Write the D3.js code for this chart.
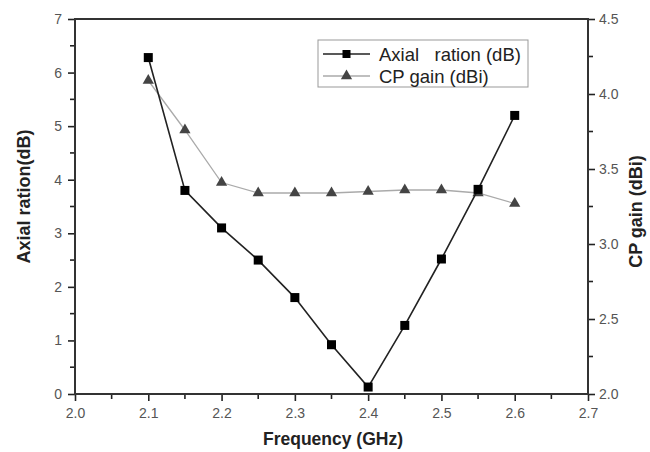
<!DOCTYPE html>
<html>
<head>
<meta charset="utf-8">
<script src="https://cdn.jsdelivr.net/npm/d3@7"></script>
<style>
  body { margin: 0; background: #fff; }
  text { font-family: "Liberation Sans", Arial, sans-serif; }
</style>
</head>
<body>
<div id="main"></div>
<script>
// data
const freq = [2.1, 2.15, 2.2, 2.25, 2.3, 2.35, 2.4, 2.45, 2.5, 2.55, 2.6];
const axialRatio = [6.28, 3.8, 3.1, 2.5, 1.8, 0.92, 0.13, 1.28, 2.52, 3.82, 5.2];
const cpGain = [4.09, 3.76, 3.41, 3.34, 3.34, 3.34, 3.35, 3.36, 3.36, 3.34, 3.27];
const xTicks = [2.0, 2.1, 2.2, 2.3, 2.4, 2.5, 2.6, 2.7];
const yLeftTicks = [0, 1, 2, 3, 4, 5, 6, 7];
const yRightTicks = [2.0, 2.5, 3.0, 3.5, 4.0, 4.5];
const legendLabels = ["Axial   ration (dB)", "CP gain (dBi)"];

const ctx = {
  WIDTH: 650,
  HEIGHT: 452,
  left: 75, right: 588, top: 19, bottom: 394
};

function drawChart() {
  const svg = d3.select("#main").append("svg")
      .attr("width", ctx.WIDTH)
      .attr("height", ctx.HEIGHT);

  const x = d3.scaleLinear().domain([2.0, 2.7]).range([ctx.left, ctx.right]);
  const yL = d3.scaleLinear().domain([0, 7]).range([ctx.bottom, ctx.top]);
  const yR = d3.scaleLinear().domain([2.0, 4.5]).range([ctx.bottom, ctx.top]);

  const tickColor = "#555";
  const axisColor = "#222";

  // bottom axis
  const xAxis = svg.append("g")
      .attr("transform", `translate(0,${ctx.bottom})`)
      .call(d3.axisBottom(x).tickValues(xTicks).tickFormat(d3.format(".1f")).tickSize(7).tickPadding(7));
  xAxis.selectAll("line.minor").data(d3.range(2.05, 2.7, 0.1)).enter().append("line")
      .attr("class", "minor")
      .attr("x1", d => x(d)).attr("x2", d => x(d)).attr("y1", 0).attr("y2", 5);

  // left axis
  const yAxisL = svg.append("g")
      .attr("transform", `translate(${ctx.left},0)`)
      .call(d3.axisLeft(yL).tickValues(yLeftTicks).tickFormat(d3.format("d")).tickSize(7).tickPadding(6));
  yAxisL.selectAll("line.minor").data(d3.range(0.5, 7, 1)).enter().append("line")
      .attr("class", "minor")
      .attr("x1", 0).attr("x2", -5).attr("y1", d => yL(d)).attr("y2", d => yL(d));

  // right axis
  const yAxisR = svg.append("g")
      .attr("transform", `translate(${ctx.right},0)`)
      .call(d3.axisRight(yR).tickValues(yRightTicks).tickFormat(d3.format(".1f")).tickSize(7).tickPadding(4));
  yAxisR.selectAll("line.minor").data(d3.range(2.25, 4.5, 0.5)).enter().append("line")
      .attr("class", "minor")
      .attr("x1", 0).attr("x2", 5).attr("y1", d => yR(d)).attr("y2", d => yR(d));

  [xAxis, yAxisL, yAxisR].forEach(a => {
    a.select(".domain").remove();
    a.selectAll(".tick line, line.minor").attr("stroke", axisColor).attr("stroke-width", 1.6);
    a.selectAll(".tick text").attr("fill", tickColor).style("font-size", "14px");
  });

  // frame
  svg.append("rect")
      .attr("x", ctx.left).attr("y", ctx.top)
      .attr("width", ctx.right - ctx.left).attr("height", ctx.bottom - ctx.top)
      .attr("fill", "none").attr("stroke", "#333").attr("stroke-width", 2);

  // CP gain series (grey, triangles)
  const gainData = freq.map((f, i) => [f, cpGain[i]]);
  svg.append("path").datum(gainData)
      .attr("fill", "none").attr("stroke", "#aaa").attr("stroke-width", 1.3)
      .attr("d", d3.line().x(d => x(d[0])).y(d => yR(d[1])));
  const tri = d3.symbol().type(d3.symbolTriangle).size(55);
  svg.selectAll("path.tri").data(gainData).enter().append("path")
      .attr("class", "tri")
      .attr("d", tri)
      .attr("transform", d => `translate(${x(d[0])},${yR(d[1])})`)
      .attr("fill", "#444");

  // axial ratio series (black, squares)
  const arData = freq.map((f, i) => [f, axialRatio[i]]);
  svg.append("path").datum(arData)
      .attr("fill", "none").attr("stroke", "#222").attr("stroke-width", 1.6)
      .attr("d", d3.line().x(d => x(d[0])).y(d => yL(d[1])));
  svg.selectAll("rect.sq").data(arData).enter().append("rect")
      .attr("class", "sq")
      .attr("x", d => x(d[0]) - 4.5).attr("y", d => yL(d[1]) - 4.5)
      .attr("width", 9).attr("height", 9)
      .attr("fill", "#000");

  // legend
  const lg = svg.append("g");
  lg.append("rect").attr("x", 318).attr("y", 40).attr("width", 210).attr("height", 47)
      .attr("fill", "#fff").attr("stroke", "#999").attr("stroke-width", 1);
  const rows = [
    {label: legendLabels[0], stroke: "#222", sym: "sq"},
    {label: legendLabels[1], stroke: "#aaa", sym: "tri"}
  ];
  rows.forEach((r, i) => {
    const cy = 54 + i * 22;
    lg.append("line").attr("x1", 323).attr("x2", 370).attr("y1", cy).attr("y2", cy)
        .attr("stroke", r.stroke).attr("stroke-width", 1.3);
    if (r.sym === "sq") {
      lg.append("rect").attr("x", 342.5).attr("y", cy - 4).attr("width", 8).attr("height", 8).attr("fill", "#000");
    } else {
      lg.append("path").attr("d", tri).attr("transform", `translate(346.5,${cy})`).attr("fill", "#444");
    }
    lg.append("text").attr("x", 379).attr("y", cy + 6.5)
        .style("font-size", "18.5px").attr("fill", "#222")
        .style("white-space", "pre").attr("xml:space", "preserve")
        .text(r.label);
  });

  // axis titles
  svg.append("text")
      .attr("x", 333).attr("y", 445)
      .attr("text-anchor", "middle")
      .style("font-size", "17.5px").style("font-weight", "bold").attr("fill", "#222")
      .text("Frequency (GHz)");
  svg.append("text")
      .attr("transform", `translate(30,${(128 + 265) / 2}) rotate(-90)`)
      .attr("text-anchor", "middle")
      .style("font-size", "18px").style("font-weight", "bold").attr("fill", "#222")
      .text("Axial ration(dB)");
  svg.append("text")
      .attr("transform", `translate(642,${(ctx.top + ctx.bottom) / 2 + 5}) rotate(-90)`)
      .attr("text-anchor", "middle")
      .style("font-size", "18px").style("font-weight", "bold").attr("fill", "#222")
      .text("CP gain (dBi)");
}

drawChart();
</script>
</body>
</html>
